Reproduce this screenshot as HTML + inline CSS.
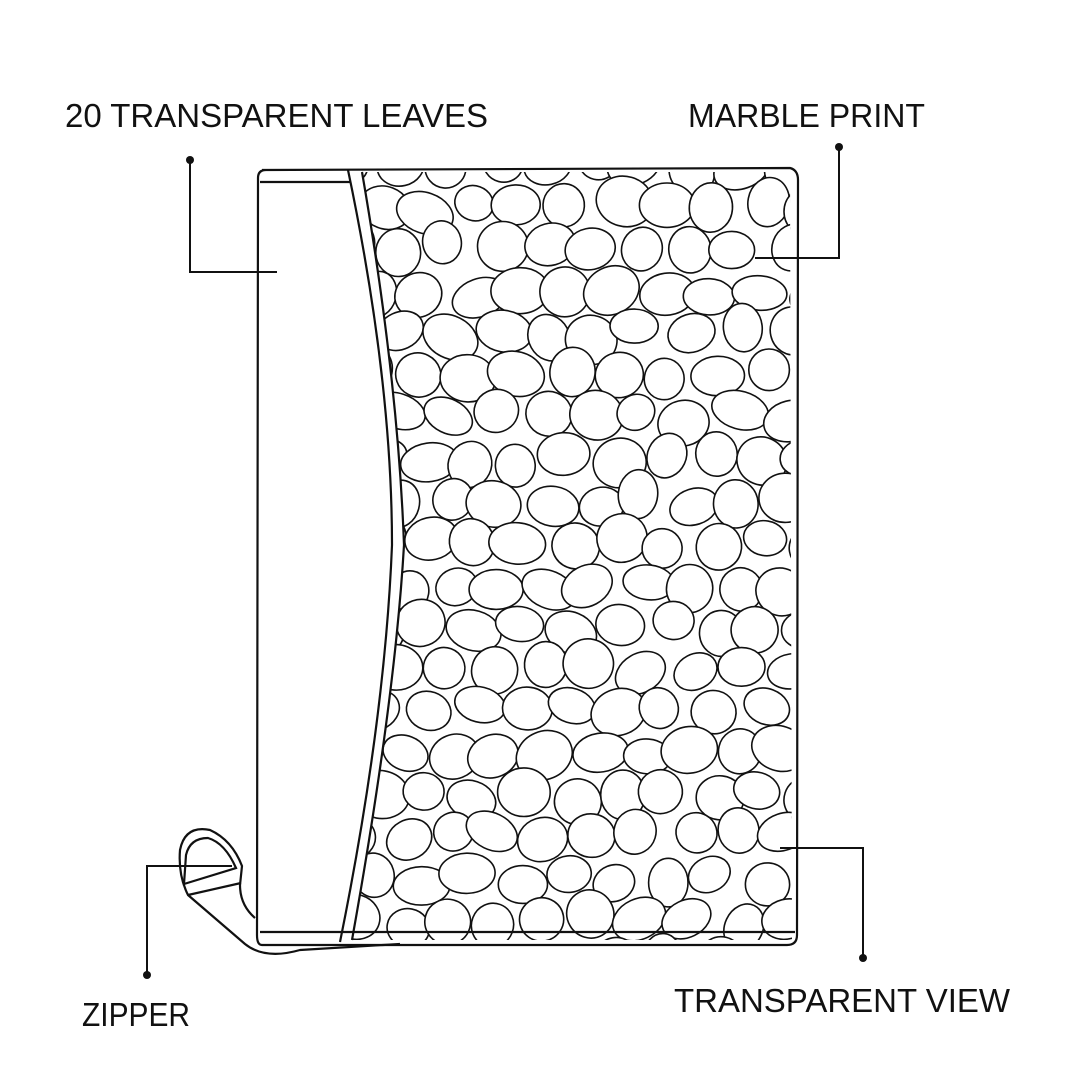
<!DOCTYPE html>
<html><head><meta charset="utf-8"><style>
html,body{margin:0;padding:0;background:#fff;width:1080px;height:1080px;overflow:hidden}
svg{display:block}
text{font-family:"Liberation Sans",sans-serif;font-size:33px;fill:#111}
</style></head><body>
<svg id="s" width="1080" height="1080" viewBox="0 0 1080 1080" xmlns="http://www.w3.org/2000/svg">
<defs>
<clipPath id="cp"><path d="M362,172 L790,172 L792,940 L352,940 Q395,700 404,545 Q398,380 362,172 Z"/></clipPath>
</defs>
<rect width="1080" height="1080" fill="#fff"/>
<g id="peb" clip-path="url(#cp)" fill="#fff" stroke="#111" stroke-width="1.6"></g>
<g fill="none" stroke="#111" stroke-width="2.2">
<path d="M262,170 L790,168 Q798,170 798,180 L797,935 Q797,945 787,945 L262,945 Q257,945 257,935 L258,178 Q258,170 266,170"/>
<path d="M260,182 L350,182"/>
<path d="M260,932 L795,932"/>
<path d="M348,170 Q392,380 392,545 Q385,720 340,942"/>
<path d="M362,172 Q398,380 404,545 Q395,700 352,940"/>
<path d="M255,918 Q240,905 240,885 L242,866 Q232,840 210,830 Q185,825 180,850 Q178,875 188,895 L245,944 Q265,960 300,950 L400,944"/>
<path d="M188,895 L241,883"/>
<path d="M184,884 L236,868 Q225,843 208,838 Q190,838 186,855 Z"/>
</g>
<g stroke="#111" stroke-width="2" fill="none">
<path d="M190,160 L190,272 L277,272"/>
<path d="M839,147 L839,258 L755,258"/>
<path d="M780,848 L863,848 L863,958"/>
<path d="M147,975 L147,866 L232,866"/>
</g>
<g fill="#111">
<circle cx="190" cy="160" r="4"/><circle cx="839" cy="147" r="4"/>
<circle cx="863" cy="958" r="4"/><circle cx="147" cy="975" r="4"/>
</g>
<text x="65" y="127" textLength="423" lengthAdjust="spacingAndGlyphs">20 TRANSPARENT LEAVES</text>
<text x="688" y="127" textLength="237" lengthAdjust="spacingAndGlyphs">MARBLE PRINT</text>
<text x="82" y="1026" textLength="108" lengthAdjust="spacingAndGlyphs">ZIPPER</text>
<text x="674" y="1012" textLength="336" lengthAdjust="spacingAndGlyphs">TRANSPARENT VIEW</text>
</svg>
<script>
(function(){
var g=document.getElementById('peb');var seed=11;
function r(){seed=(seed*16807)%2147483647;return seed/2147483647;}
var h='';var row=0;
for(var y=165;y<965;y+=42){row++;for(var x=330;x<830;x+=48){
var cx=x+(r()-0.5)*16+(row%2?24:0),cy=y+(r()-0.5)*14;
var rx=19+r()*10,ry=17+r()*8,a=(r()*60-30);
h+='<ellipse cx="'+cx.toFixed(1)+'" cy="'+cy.toFixed(1)+'" rx="'+rx.toFixed(1)+'" ry="'+ry.toFixed(1)+'" transform="rotate('+a.toFixed(0)+' '+cx.toFixed(1)+' '+cy.toFixed(1)+')"/>';
}}
g.innerHTML=h;
})();
</script>
</body></html>
